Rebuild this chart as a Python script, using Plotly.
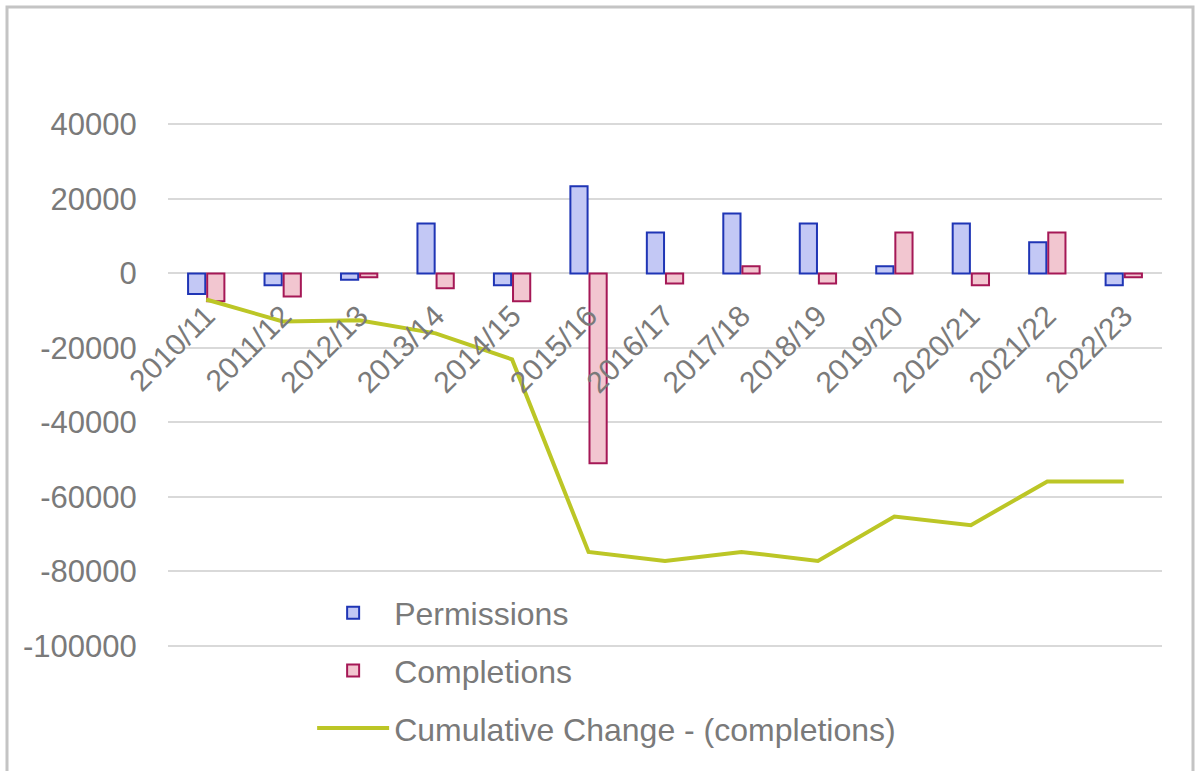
import plotly.graph_objects as go

categories = ["2010/11", "2011/12", "2012/13", "2013/14", "2014/15", "2015/16", "2016/17",
              "2017/18", "2018/19", "2019/20", "2020/21", "2021/22", "2022/23"]
permissions = [-5500, -3200, -1700, 13400, -3200, 23400, 11000, 16100, 13400, 1900, 13400, 8400, -3200]
completions = [-7500, -6200, -1000, -4000, -7500, -51000, -2700, 1900, -2700, 11000, -3200, 11000, -1000]
cumulative = [-7000, -12900, -12600, -16100, -23100, -74800, -77200, -74800, -77200, -65300, -67600, -55900, -55900]

y_tickvals = [40000, 20000, 0, -20000, -40000, -60000, -80000, -100000]
y_ticktext = ["40000", "20000", "0", "-20000", "-40000", "-60000", "-80000", "-100000"]

FONT = "Liberation Sans, Arial, sans-serif"
TXT = "#7a7a7a"
GRID = "#d9d9d9"
Y_RANGE = [-110000, 60000]

fig = go.Figure()
fig.add_trace(go.Bar(
    name="Permissions", x=categories, y=permissions,
    marker=dict(color="#c3c8f5", line=dict(color="#1f35b5", width=2)),
    legendgroup="a",
))
fig.add_trace(go.Bar(
    name="Completions", x=categories, y=completions,
    marker=dict(color="#f2c6d0", line=dict(color="#a51856", width=2)),
    legendgroup="b",
))
fig.add_trace(go.Scatter(
    name="Cumulative Change - (completions)", x=categories, y=cumulative,
    mode="lines", line=dict(color="#bcc626", width=4),
    legendgroup="c",
))

zero_pos = (0 - Y_RANGE[0]) / (Y_RANGE[1] - Y_RANGE[0])

fig.update_layout(
    width=1198, height=771,
    margin=dict(l=168, r=36, t=50, b=88),
    paper_bgcolor="white", plot_bgcolor="white",
    font=dict(family=FONT, color=TXT, size=30),
    barmode="group", bargap=0.5, bargroupgap=0.1,
    showlegend=True,
    legend=dict(
        x=0.145, y=0.154, xanchor="left", yanchor="top",
        bgcolor="rgba(0,0,0,0)", font=dict(size=32, color=TXT),
        traceorder="grouped", tracegroupgap=13, itemwidth=72,
    ),
    xaxis=dict(
        type="category", showgrid=False, showline=False, zeroline=False,
        anchor="free", position=zero_pos, tickangle=-45,
        ticks="outside", ticklen=12, tickcolor="rgba(0,0,0,0)",
        tickfont=dict(size=30, color=TXT),
    ),
    yaxis=dict(
        range=Y_RANGE, tickvals=y_tickvals, ticktext=y_ticktext,
        showgrid=True, gridcolor=GRID, gridwidth=2,
        zeroline=True, zerolinecolor=GRID, zerolinewidth=2,
        showline=False, ticks="outside", ticklen=24, tickcolor="rgba(0,0,0,0)",
        tickfont=dict(size=31, color=TXT),
    ),
    shapes=[dict(
        type="rect", xref="paper", yref="paper",
        x0=(7 - 168) / 994, x1=(1193 - 168) / 994,
        y0=-0.3, y1=(683 - 7) / 633,
        line=dict(color="#c4c4c4", width=3), fillcolor="rgba(0,0,0,0)", layer="below",
    )],
)

fig.write_html("out.html", config={"displayModeBar": False},
               post_script="document.body.style.margin='0';")
